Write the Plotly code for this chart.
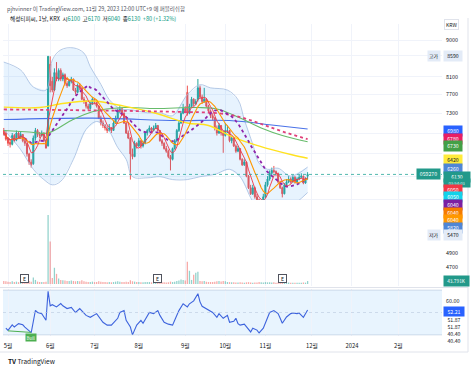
import math
import pandas as pd
import plotly.graph_objects as go

# ---------------- data ----------------
bar_index = list(range(-2, 143))   # trading-day index, 0 = 2 May 2023

opens = [6950, 6900, 6780, 6720, 6680, 6850, 6760, 6900, 6820, 6870, 6750, 6700,
         6500, 6350, 6320, 6800, 6950, 6870, 6850, 6900, 6750, 6650,
         8400, 8000, 7800, 8200, 8050, 8250, 8050, 8150, 7950, 7900,
         8000, 8050, 7800, 7750, 7900, 7850, 7600, 7550, 7450, 7400,
         7500, 7600, 7550, 7450, 7200, 7100, 7050, 7000, 6950, 7000,
         6950, 7100, 7200, 7350, 7400, 7300, 7100, 6900, 6800, 6500,
         6450, 6700, 6650, 6750, 6650, 6700, 6900, 6950, 7000, 6950,
         7000, 7050, 6950, 6750, 6700, 6600, 6550, 6450, 6400, 6600,
         6750, 6950, 7100, 7300, 7400, 7750, 7300, 7450, 7600, 7500,
         7600, 7850, 7650, 7550, 7600, 7450, 7350, 7250, 7200, 7000,
         6900, 7050, 6900, 6850, 6950, 6950, 6750, 6800, 6650, 6550,
         6600, 6400, 6300, 6350, 6100, 5900, 5800, 5900, 5750, 5700,
         5550, 5650, 5750, 5950, 6050, 6150, 6200, 6180, 6150, 6000,
         5900, 5800, 5950, 6000, 6050, 6000, 6080, 6000, 6050, 6080,
         6100, 5980, 6100]
highs = [7000, 6950, 6820, 6780, 6900, 6880, 6950, 6930, 6920, 6880, 6780, 6710,
         6520, 6400, 6850, 7000, 6980, 6920, 6950, 6910, 6780, 8590,
         8590, 8100, 8300, 8450, 8300, 8300, 8200, 8180, 8000, 8050,
         8100, 8060, 7850, 7950, 7950, 7860, 7650, 7580, 7500, 7550,
         7650, 7620, 7580, 7460, 7250, 7150, 7080, 7050, 7080, 7020,
         7150, 7250, 7400, 7450, 7420, 7320, 7120, 6950, 6820, 6600,
         6750, 6720, 6800, 6760, 6750, 6920, 6980, 7050, 7020, 7050,
         7100, 7060, 6960, 6780, 6720, 6650, 6580, 6480, 6620, 6780,
         6980, 7150, 7350, 7500, 7450, 7900, 7500, 7650, 7620, 7600,
         8050, 7900, 7700, 7850, 7620, 7480, 7380, 7300, 7220, 7050,
         7100, 7060, 6950, 7100, 7050, 6960, 6850, 6820, 6680, 6650,
         6610, 6420, 6400, 6360, 6120, 5950, 5950, 5920, 5800, 5720,
         5700, 5800, 6000, 6100, 6200, 6250, 6280, 6200, 6160, 6020,
         5920, 5980, 6050, 6100, 6080, 6120, 6100, 6080, 6120, 6150,
         6110, 6080, 6170]
lows = [6850, 6750, 6650, 6620, 6660, 6720, 6740, 6780, 6800, 6720, 6650, 6450,
        6300, 6250, 6300, 6750, 6820, 6800, 6830, 6720, 6600, 6640,
        7750, 7750, 7780, 8000, 8000, 8000, 8000, 7900, 7850, 7880,
        7950, 7780, 7700, 7730, 7800, 7580, 7500, 7400, 7350, 7380,
        7480, 7500, 7420, 7180, 7050, 7000, 6950, 6900, 6930, 6900,
        6940, 7080, 7180, 7300, 7250, 7080, 6880, 6780, 6040, 6400,
        6440, 6600, 6630, 6600, 6620, 6680, 6850, 6920, 6900, 6930,
        6980, 6920, 6730, 6650, 6580, 6520, 6420, 6200, 6380, 6580,
        6720, 6920, 7080, 7280, 7300, 7250, 7280, 7430, 7450, 7480,
        7550, 7600, 7500, 7520, 7420, 7300, 7200, 7150, 6950, 6850,
        6880, 6850, 6520, 6830, 6900, 6720, 6700, 6630, 6520, 6530,
        6380, 6280, 6280, 6080, 5880, 5780, 5780, 5720, 5650, 5470,
        5500, 5620, 5730, 5920, 6020, 6100, 6150, 6100, 5980, 5880,
        5740, 5790, 5920, 5980, 5970, 5990, 5970, 5980, 6030, 6060,
        5960, 5970, 6040]
closes = [6900, 6780, 6700, 6680, 6850, 6760, 6900, 6820, 6870, 6750, 6700, 6500,
          6350, 6300, 6800, 6950, 6870, 6850, 6900, 6750, 6610, 8590,
          7900, 7800, 8200, 8050, 8250, 8050, 8150, 7950, 7900, 8000,
          8050, 7800, 7750, 7900, 7850, 7600, 7550, 7450, 7400, 7500,
          7600, 7550, 7450, 7200, 7100, 7050, 7000, 6950, 7000, 6950,
          7100, 7200, 7350, 7400, 7300, 7100, 6900, 6800, 6500, 6450,
          6700, 6650, 6750, 6650, 6700, 6900, 6950, 7000, 6950, 7000,
          7050, 6950, 6750, 6700, 6600, 6550, 6450, 6400, 6600, 6750,
          6950, 7100, 7300, 7400, 7350, 7300, 7450, 7600, 7500, 7550,
          7850, 7650, 7550, 7600, 7450, 7350, 7250, 7200, 7000, 6900,
          7050, 6900, 6850, 6950, 6950, 6750, 6800, 6650, 6550, 6600,
          6400, 6300, 6350, 6100, 5900, 5800, 5900, 5750, 5700, 5550,
          5650, 5750, 5950, 6050, 6150, 6200, 6180, 6150, 6000, 5900,
          5800, 5950, 6000, 6050, 6000, 6080, 6000, 6050, 6080, 6100,
          5980, 6050, 6130]
volumes_k = [45, 40, 35, 30, 40, 30, 35, 28, 30, 25, 30, 40,
             45, 35, 95, 60, 35, 30, 30, 28, 35, 1020,
             630, 90, 240, 150, 80, 60, 55, 50, 45, 45,
             50, 45, 40, 45, 40, 55, 40, 35, 30, 30,
             35, 28, 30, 40, 35, 30, 28, 25, 28, 25,
             30, 35, 40, 35, 30, 30, 35, 30, 55, 40,
             35, 28, 30, 25, 25, 30, 28, 30, 25, 25,
             28, 25, 30, 25, 25, 22, 25, 35, 30, 35,
             45, 50, 65, 60, 50, 330, 195, 60, 135, 165,
             180, 45, 40, 45, 35, 30, 30, 28, 35, 40,
             45, 38, 45, 40, 30, 28, 25, 25, 22, 22,
             25, 22, 20, 25, 28, 22, 20, 22, 22, 30,
             25, 22, 28, 25, 25, 22, 25, 20, 22, 20,
             25, 22, 20, 22, 18, 20, 18, 20, 18, 20,
             22, 20, 43.791]

# Bollinger band edges
bb_up_idx = [-2, 6, 12, 18, 21, 25, 31, 36, 39, 44, 48, 53, 59, 66, 72, 78, 85, 91, 96, 104, 109, 112, 116, 119, 123, 128, 134, 142]
bb_up = [8450, 8260, 7870, 7800, 8500, 8750, 8800, 8670, 8340, 7930, 7590, 7400, 7370, 7310, 7310, 7250, 7700, 7920, 7850, 7800, 7590, 7170, 6680, 6330, 6220, 6240, 6100, 6260]
bb_lo_idx = [-2, 6, 12, 17, 21, 25, 31, 37, 42, 47, 52, 56, 59, 66, 72, 78, 85, 91, 98, 105, 110, 115, 118, 121, 126, 130, 137, 142]
bb_lo = [6970, 6580, 6220, 6040, 5950, 6010, 6400, 6970, 7130, 7000, 6620, 6400, 6090, 6070, 6090, 6040, 6040, 6090, 6130, 6220, 6090, 5735, 5550, 5390, 5390, 5490, 5665, 5820]

# long moving averages
blue_idx = [-2, 40, 80, 105, 125, 142]
blue_ma = [7170, 7200, 7150, 7150, 7060, 6980]
pink_idx = [-2, 40, 80, 100, 110, 120, 130, 142]
pink_ma = [7380, 7360, 7330, 7300, 7220, 7080, 6930, 6780]
green_idx = [-2, 10, 19, 30, 40, 55, 70, 90, 100, 110, 120, 130, 142]
green_ma = [6950, 6920, 6900, 7150, 7330, 7420, 7400, 7420, 7380, 7200, 7000, 6850, 6730]
yellow_idx = [-2, 15, 25, 40, 55, 70, 85, 95, 105, 115, 125, 135, 142]
yellow_ma = [7430, 7420, 7500, 7560, 7450, 7300, 7100, 7050, 6850, 6700, 6580, 6480, 6420]

# RSI
rsi_bar = [-1, 0, 2, 3, 5, 7, 8, 10, 11, 13, 14, 16, 18, 19, 20, 21, 23, 25, 26, 28, 30, 32, 34, 37, 39,
           42, 45, 47, 49, 52, 53, 55, 56, 58, 59, 61, 63, 64, 66, 67, 69, 71, 72, 74, 76, 78, 79, 81,
           83, 85, 86, 88, 90, 91, 92, 94, 97, 99, 100, 102, 104, 105, 107, 108, 109, 110, 112, 115,
           116, 118, 119, 121, 123, 124, 126, 128, 129, 130, 132, 134, 135, 137, 138, 140, 142]
rsi_val = [36, 34, 39, 37, 40, 39, 37, 34, 32, 52, 50, 49, 43, 69, 56, 57, 55, 58, 56, 53.5, 54.5, 50, 53.5, 47.4, 45.7,
           49, 41.3, 38.7, 38.7, 44.8, 50, 51.7, 43, 37, 30, 38.7, 43, 40.4, 47.4, 50, 49, 51.7, 47.4,
           41.3, 39.6, 38.7, 43, 51.7, 57.8, 55, 57.8, 60.4, 66.8, 59.5, 55.5, 53.5, 50, 45.7, 49, 44.8,
           47.4, 41.3, 42.2, 44.8, 40, 38.7, 39.6, 32.6, 36, 34.3, 31.7, 36, 45.7, 50, 51.7, 49, 44.8,
           40.4, 46, 49, 49.5, 49, 49.5, 45.7, 52.2]
bull_idx = [0, 11]
bull_val = [33.6, 32.2]

earnings_idx = [8, 71, 130]

month_ticks = [0, 20, 41, 62, 84, 103, 122, 144, 163, 185]
month_labels = ['5월', '6월', '7월', '8월', '9월', '10월', '11월', '12월', '2024', '2월']
price_ticks = [9000, 8600, 8100, 7700, 7300, 6900, 6500, 6100, 5700, 5400, 5100, 4900, 4700]
rsi_ticks = [60]

# right-edge value labels (value, colour, text colour)
price_labels = [
    (6980, '#2962ff', 'white'), (6780, '#e91e63', 'white'), (6730, '#43a047', 'white'),
    (6420, '#ffeb3b', '#131722'), (6260, '#4f86d6', 'white'), (6130, '#22998a', 'white'),
    (6050, '#f23645', 'white'), (6050, '#12d2ea', 'white'), (6040, '#7b1fa2', 'white'),
    (6040, '#f57c00', 'white'), (6040, '#ff9800', 'white'), (5820, '#4f86d6', 'white'),
    (5470, '#e3ebf7', '#131722')]
high_label = 8590
last_volume_k = 43.791
rsi_labels = [(52.21, True), (51.87, False), (51.87, False), (40.40, False), (40.40, False)]

# ---------------- geometry ----------------
W, H = 474, 368
L, R, T, B = 3, 32, 24, 32
PX0, PX1, PY0, PY1 = L, W - R, T, H - B          # plot area in px
PRICE_BOTTOM_PX, VOL_TOP_PX, VOL_BASE_PX, RSI_TOP_PX = 286, 200, 284, 289
LOG_TOP, LOG_BOT = math.log10(9421), math.log10(4456.5)
RSI_RANGE = [29, 71]
VOL_MAX = 1242
X_RANGE = [-2.37, 205.69]


def py(px):
    return (PY1 - px) / (PY1 - PY0)


def pxr(px):
    return (px - PX0) / (PX1 - PX0)


def price_px(v):
    return PY0 + (LOG_TOP - math.log10(v)) / (LOG_TOP - LOG_BOT) * (PRICE_BOTTOM_PX - PY0)


def rsi_px(v):
    return RSI_TOP_PX + (RSI_RANGE[1] - v) / (RSI_RANGE[1] - RSI_RANGE[0]) * (PY1 - RSI_TOP_PX)


def stack(items):
    items = sorted(items, key=lambda d: d['nat'])
    groups = [[it] for it in items]

    def place(g):
        offs, cum = [], 0
        for it in g:
            offs.append(cum)
            cum += it['h']
        pins = [k for k, it in enumerate(g) if it['pin']]
        if pins:
            k = pins[0]
            top = g[k]['nat'] - g[k]['top_off'] - offs[k]
        else:
            top = sum(it['nat'] - it['top_off'] - o for it, o in zip(g, offs)) / len(g)
        for it, o in zip(g, offs):
            it['top'] = top + o
        return top, top + cum

    changed = True
    while changed:
        changed = False
        spans = [place(g) for g in groups]
        for k in range(len(groups) - 1):
            if spans[k][1] > spans[k + 1][0] + 0.01:
                groups[k] = groups[k] + groups[k + 1]
                del groups[k + 1]
                changed = True
                break
    for g in groups:
        place(g)
    return items


# ---------------- figure ----------------
fig = go.Figure()
FONT = 'Noto Sans CJK KR, Noto Sans, sans-serif'

# volume
vol_colors = ['rgba(38,166,154,0.5)' if c >= o else 'rgba(239,83,80,0.5)' for o, c in zip(opens, closes)]
fig.add_trace(go.Bar(x=bar_index, y=volumes_k, marker=dict(color=vol_colors, line=dict(width=0)),
                     width=0.6, xaxis='x', yaxis='y2'))

# Bollinger band
fig.add_trace(go.Scatter(x=bb_up_idx + bb_lo_idx[::-1], y=bb_up + bb_lo[::-1], fill='toself',
                         fillcolor='rgba(33,150,243,0.11)', line=dict(width=0), mode='lines',
                         xaxis='x', yaxis='y'))
for xi, yi in ((bb_up_idx, bb_up), (bb_lo_idx, bb_lo)):
    fig.add_trace(go.Scatter(x=xi, y=yi, mode='lines', line=dict(color='#a3bcdf', width=0.8, shape='spline'),
                             xaxis='x', yaxis='y'))

# long MAs
fig.add_trace(go.Scatter(x=blue_idx, y=blue_ma, mode='lines', line=dict(color='#4a72e8', width=1.1, shape='spline'), yaxis='y'))
fig.add_trace(go.Scatter(x=green_idx, y=green_ma, mode='lines', line=dict(color='#66bb6a', width=1.1, shape='spline'), yaxis='y'))
fig.add_trace(go.Scatter(x=yellow_idx, y=yellow_ma, mode='lines', line=dict(color='#ffe21f', width=1.4, shape='spline'), yaxis='y'))
fig.add_trace(go.Scatter(x=pink_idx, y=pink_ma, mode='lines', line=dict(color='#e0407a', width=1.8, dash='dot', shape='spline'), yaxis='y'))

# short MAs from closes
cs = pd.Series(closes)
ma5 = cs.rolling(5, min_periods=1).mean().tolist()
ma10 = cs.rolling(10, min_periods=1).mean().tolist()
ma20 = cs.rolling(20, min_periods=1).mean().tolist()
fig.add_trace(go.Scatter(x=bar_index, y=ma20, mode='lines', line=dict(color='#8e24aa', width=1.8, dash='dot'), yaxis='y'))
fig.add_trace(go.Scatter(x=bar_index, y=ma10, mode='lines', line=dict(color='#ff9800', width=1.1), yaxis='y'))
fig.add_trace(go.Scatter(x=bar_index, y=ma5, mode='lines', line=dict(color='#f23645', width=0.9), yaxis='y'))

# candles
fig.add_trace(go.Candlestick(x=bar_index, open=opens, high=highs, low=lows, close=closes,
                             increasing=dict(line=dict(color='#26a69a', width=1), fillcolor='#26a69a'),
                             decreasing=dict(line=dict(color='#ef5350', width=1), fillcolor='#ef5350'),
                             whiskerwidth=0, xaxis='x', yaxis='y'))

# last price line
fig.add_trace(go.Scatter(x=X_RANGE, y=[closes[-1], closes[-1]], mode='lines',
                         line=dict(color='#26a69a', width=0.8, dash='dot'), yaxis='y'))

# RSI
fig.add_trace(go.Scatter(x=rsi_bar, y=rsi_val, mode='lines', line=dict(color='#3d63dd', width=1.1), yaxis='y3'))
fig.add_trace(go.Scatter(x=bull_idx, y=bull_val, mode='lines', line=dict(color='#4caf50', width=1), yaxis='y3'))

shapes = [
    dict(type='rect', xref='paper', yref='y3', x0=0, x1=1, y0=30, y1=70,
         fillcolor='rgba(33,150,243,0.10)', line=dict(width=0), layer='below'),
    dict(type='line', xref='paper', yref='y3', x0=0, x1=1, y0=70, y1=70, line=dict(color='#b9c7dd', width=0.6)),
    dict(type='line', xref='paper', yref='y3', x0=0, x1=1, y0=50, y1=50, line=dict(color='#b9c7dd', width=0.6, dash='dot')),
    dict(type='line', xref='paper', yref='y3', x0=0, x1=1, y0=30, y1=30, line=dict(color='#b9c7dd', width=0.6)),
    dict(type='line', xref='paper', yref='paper', x0=pxr(0), x1=pxr(468), y0=py(287.5), y1=py(287.5),
         line=dict(color='#e0e3eb', width=1)),
    dict(type='line', xref='paper', yref='paper', x0=pxr(468), x1=pxr(468), y0=py(18), y1=py(352),
         line=dict(color='#e0e3eb', width=1)),
    dict(type='line', xref='paper', yref='paper', x0=pxr(0), x1=pxr(468), y0=py(352), y1=py(352),
         line=dict(color='#e0e3eb', width=1)),
]

ann = []
teal = '#089981'
ann.append(dict(xref='paper', yref='paper', x=pxr(5), y=py(9), xanchor='left', yanchor='middle', showarrow=False,
                text='pjhvinner 이 TradingView.com, 11월 29, 2023 12:00 UTC+9 에 퍼블리쉬함',
                font=dict(size=5.5, color='#50535e')))
hdr = ('해성티피씨, 1날, KRX  시<span style="color:%s">%d</span>  고<span style="color:%s">%d</span>  '
       '저<span style="color:%s">%d</span>  종<span style="color:%s">%d</span>  '
       '<span style="color:%s">+%d (+%.2f%%)</span>') % (
    teal, opens[-1], teal, highs[-1], teal, lows[-1], teal, closes[-1], teal,
    closes[-1] - closes[-2], (closes[-1] - closes[-2]) / closes[-2] * 100)
ann.append(dict(xref='paper', yref='paper', x=pxr(8), y=py(18.5), xanchor='left', yanchor='middle', showarrow=False,
                text=hdr, font=dict(size=5.6, color='#131722')))
ann.append(dict(xref='paper', yref='paper', x=pxr(444), y=py(25), xanchor='left', yanchor='middle', showarrow=False,
                text='KRW', font=dict(size=5, color='#131722'), bordercolor='#e0e3eb', borderwidth=1, borderpad=1))
ann.append(dict(xref='paper', yref='paper', x=pxr(6), y=py(361), xanchor='left', yanchor='middle', showarrow=False,
                text='<b>TV</b> TradingView', font=dict(size=6.5, color='#131722')))

BOX_H = 7.6
LAB_FS = 5.2
box_spans = []
# high label
hp = price_px(high_label)
box_spans.append((hp - BOX_H / 2, hp + BOX_H / 2))
ann.append(dict(xref='paper', yref='paper', x=1, xshift=1, y=py(hp), xanchor='left', yanchor='middle', showarrow=False,
                text=str(high_label), font=dict(size=LAB_FS, color='#131722'), bgcolor='#e3ebf7', width=16, height=BOX_H))
ann.append(dict(xref='paper', yref='paper', x=1, xshift=-1, y=py(hp), xanchor='right', yanchor='middle', showarrow=False,
                text='고가', font=dict(size=5, color='#131722'), bgcolor='#e3ebf7', height=BOX_H))

items = []
for k, (v, bg, tc) in enumerate(price_labels):
    is_last = (v == closes[-1])
    items.append(dict(nat=price_px(v), top_off=BOX_H / 2, h=13.2 if is_last else BOX_H, pin=is_last,
                      v=v, bg=bg, tc=tc, k=k))
for it in stack(items):
    box_spans.append((it['top'], it['top'] + it['h']))
    if it['pin']:
        ann.append(dict(xref='paper', yref='paper', x=1, xshift=1, y=py(it['top']), xanchor='left', yanchor='top',
                        showarrow=False, text=str(it['v']), font=dict(size=LAB_FS, color='white'),
                        bgcolor=it['bg'], width=24, height=BOX_H))
        ann.append(dict(xref='paper', yref='paper', x=1, xshift=1, y=py(it['top'] + BOX_H), xanchor='left',
                        yanchor='top', showarrow=False, text='03:54:03', font=dict(size=4.2, color='#d8f3ef'),
                        bgcolor=it['bg'], width=24, height=5.6))
        ann.append(dict(xref='paper', yref='paper', x=1, xshift=-1, y=py(it['nat']), xanchor='right',
                        yanchor='middle', showarrow=False, text='059270', font=dict(size=LAB_FS, color='white'),
                        bgcolor=it['bg'], width=21, height=BOX_H))
    else:
        ann.append(dict(xref='paper', yref='paper', x=1, xshift=1, y=py(it['top']), xanchor='left', yanchor='top',
                        showarrow=False, text=str(it['v']), font=dict(size=LAB_FS, color=it['tc']),
                        bgcolor=it['bg'], width=16, height=BOX_H))
        if it['v'] == min(lows):
            ann.append(dict(xref='paper', yref='paper', x=1, xshift=-1, y=py(it['top']), xanchor='right',
                            yanchor='top', showarrow=False, text='저가', font=dict(size=5, color='#131722'),
                            bgcolor='#e3ebf7', height=BOX_H))

# tick labels that sit under a value label are hidden (grid line stays)
price_ticktext = []
for t in price_ticks:
    p = price_px(t)
    hidden = any(a - 3 <= p <= b + 3 for a, b in box_spans)
    price_ticktext.append('' if hidden else str(t))

# volume label
vpx = VOL_BASE_PX - last_volume_k / VOL_MAX * (VOL_BASE_PX - VOL_TOP_PX)
ann.append(dict(xref='paper', yref='paper', x=1, xshift=1, y=py(vpx), xanchor='left', yanchor='middle', showarrow=False,
                text='%.3fK' % last_volume_k, font=dict(size=4.8, color='white'), bgcolor='#22998a',
                width=23, height=BOX_H))

# RSI labels
ritems = [dict(nat=rsi_px(v), top_off=3.6, h=7.2, pin=p, v=v) for v, p in rsi_labels]
for it in stack(ritems):
    if it['pin']:
        ann.append(dict(xref='paper', yref='paper', x=1, xshift=1, y=py(it['top']), xanchor='left', yanchor='top',
                        showarrow=False, text='%.2f' % it['v'], font=dict(size=LAB_FS, color='white'),
                        bgcolor='#2962ff', width=18, height=7.2))
    else:
        ann.append(dict(xref='paper', yref='paper', x=1, xshift=1, y=py(it['top']), xanchor='left', yanchor='top',
                        showarrow=False, text='%.2f' % it['v'], font=dict(size=LAB_FS, color='#131722'),
                        width=18, height=7.2))

# earnings markers
for e in earnings_idx:
    ann.append(dict(xref='x', yref='paper', x=e, y=py(278), xanchor='center', yanchor='middle', showarrow=False,
                    text='E', font=dict(size=5.2, color='#131722'), bgcolor='white',
                    bordercolor='#50535e', borderwidth=1, borderpad=0.5, width=6, height=6))
# bull label
ann.append(dict(xref='x', yref='y3', x=bull_idx[1], y=bull_val[1], xanchor='center', yanchor='top', showarrow=False,
                yshift=-1, text='Bull', font=dict(size=4.5, color='white'), bgcolor='#4caf50', borderpad=0.5))

fig.update_layout(
    width=W, height=H, margin=dict(l=L, r=R, t=T, b=B),
    paper_bgcolor='white', plot_bgcolor='white', showlegend=False,
    font=dict(family=FONT, size=6, color='#131722'),
    xaxis=dict(range=X_RANGE, tickvals=month_ticks, ticktext=month_labels, showgrid=True,
               gridcolor='#f0f3fa', gridwidth=1, zeroline=False, showline=False, ticks='',
               tickfont=dict(size=5.8, color='#131722'), anchor='y3', rangeslider=dict(visible=False),
               ticklabelstandoff=5),
    yaxis=dict(domain=[py(PRICE_BOTTOM_PX), 1], type='log', range=[LOG_BOT, LOG_TOP], side='right',
               tickvals=price_ticks, ticktext=price_ticktext, showgrid=True,
               gridcolor='#f0f3fa', zeroline=False, showline=False, ticks='', anchor='x',
               tickfont=dict(size=5.4, color='#131722'), ticklabelstandoff=3),
    yaxis2=dict(domain=[py(VOL_BASE_PX), py(VOL_TOP_PX)], range=[0, VOL_MAX], visible=False, anchor='x'),
    yaxis3=dict(domain=[0, py(RSI_TOP_PX)], range=RSI_RANGE, side='right', tickvals=rsi_ticks,
                ticktext=['%.2f' % t for t in rsi_ticks], showgrid=False, zeroline=False, showline=False,
                ticks='', anchor='x', tickfont=dict(size=5.4, color='#131722'), ticklabelstandoff=3),
    shapes=shapes, annotations=ann,
)

fig.write_html('out.html', config={'displayModeBar': False},
               post_script="document.body.style.margin='0';")
